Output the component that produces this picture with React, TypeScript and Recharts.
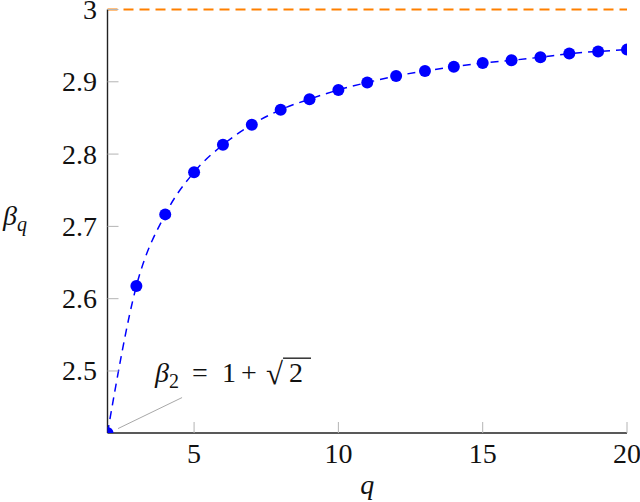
import React from "react";
import { LineChart, Line, XAxis, YAxis, ReferenceLine, ReferenceDot } from "recharts";

const qValues = [2, 3, 4, 5, 6, 7, 8, 9, 10, 11, 12, 13, 14, 15, 16, 17, 18, 19, 20];
const betaValues = [
  2.4142, 2.6174, 2.7166, 2.775, 2.8129, 2.8406, 2.8614, 2.876, 2.8887, 2.899,
  2.908, 2.915, 2.9207, 2.926, 2.9297, 2.934, 2.939, 2.942, 2.9445,
];
const xTicks = [5, 10, 15, 20];
const yTicks = [2.5, 2.6, 2.7, 2.8, 2.9, 3];
const limitValue = 3;
const annotationParts = ["β", "2", "=", "1", "+", "√", "2"];
const annotationAnchor = { x: 3.647, y: 2.4845 };
const leaderLine = [
  { x: 2.364, y: 2.4203 },
  { x: 4.583, y: 2.4632 },
];

const data = qValues.map((q, i) => ({ q, beta: betaValues[i] }));

const FONT = "Liberation Serif";
const TICK_COLOR = "#b4b4b4";

const YTick = (props: any) => {
  const { x, y, payload } = props;
  return (
    <g>
      <line x1={x} y1={y} x2={x + 11} y2={y} stroke={TICK_COLOR} strokeWidth={1} />
      <text x={x - 10.5} y={y + 9.5} textAnchor="end" fontFamily={FONT} fontSize={28} fill="#111">
        {String(payload.value)}
      </text>
    </g>
  );
};

const XTick = (props: any) => {
  const { x, y, payload } = props;
  return (
    <g>
      <line x1={x} y1={y} x2={x} y2={y - 11} stroke={TICK_COLOR} strokeWidth={1} />
      <text x={x} y={y + 30} textAnchor="middle" fontFamily={FONT} fontSize={28} fill="#111">
        {String(payload.value)}
      </text>
    </g>
  );
};

const Annotation = (p: any) => {
  const vb = p.viewBox;
  const x0 = vb.x + 1;
  const y0 = vb.y + 1;
  const [b, s, eq, one, plus, rad, two] = annotationParts;
  return (
    <g fill="#111">
      <text x={x0} y={y0} fontFamily={FONT} fontSize={28} fontStyle="italic">{b}</text>
      <text x={x0 + 14} y={y0 + 6} fontFamily={FONT} fontSize={20}>{s}</text>
      <text x={x0 + 37} y={y0} fontFamily={FONT} fontSize={28}>{eq}</text>
      <text x={x0 + 67} y={y0} fontFamily={FONT} fontSize={28}>{one}</text>
      <text x={x0 + 86} y={y0} fontFamily={FONT} fontSize={28}>{plus}</text>
      <text x={x0 + 111} y={y0 + 2} fontFamily={FONT} fontSize={31}>{rad}</text>
      <line x1={x0 + 128} y1={y0 - 24} x2={x0 + 156} y2={y0 - 24} stroke="#111" strokeWidth={1.3} />
      <text x={x0 + 134} y={y0} fontFamily={FONT} fontSize={28}>{two}</text>
    </g>
  );
};

const XLabel = (p: any) => {
  const vb = p.viewBox;
  return (
    <text
      x={vb.x + vb.width / 2}
      y={vb.y + 61}
      textAnchor="middle"
      fontFamily={FONT}
      fontStyle="italic"
      fontSize={28}
      fill="#111"
    >
      q
    </text>
  );
};

const YLabel = (p: any) => {
  const vb = p.viewBox;
  const yb = vb.y + vb.height / 2 + 4;
  return (
    <g fill="#111">
      <text x={3} y={yb} fontFamily={FONT} fontStyle="italic" fontSize={28}>β</text>
      <text x={17} y={yb + 6} fontFamily={FONT} fontStyle="italic" fontSize={20}>q</text>
    </g>
  );
};

export default function App() {
  return (
    <div style={{ position: "absolute", left: 0, top: 0, background: "#fff" }}>
      <LineChart
        width={640}
        height={502}
        data={data}
        margin={{ top: 9.5, right: 13, left: 0, bottom: 0 }}
      >
        <XAxis
          dataKey="q"
          type="number"
          domain={[2, 20]}
          ticks={xTicks}
          height={69}
          tickSize={0}
          tickMargin={0}
          tickLine={false}
          axisLine={{ stroke: "#222", strokeWidth: 1.4 }}
          tick={<XTick />}
          interval={0}
          allowDataOverflow
          label={{ content: XLabel }}
        />
        <YAxis
          type="number"
          domain={[2.4142, 3]}
          ticks={yTicks}
          width={107.5}
          tickSize={0}
          tickMargin={0}
          tickLine={false}
          axisLine={{ stroke: "#222", strokeWidth: 1.4 }}
          tick={<YTick />}
          interval={0}
          allowDataOverflow
          label={{ content: YLabel }}
        />
        <ReferenceLine y={limitValue} stroke="#ff8000" strokeWidth={2.2} strokeDasharray="10 6" />
        <ReferenceLine segment={leaderLine} stroke="#a8a8a8" strokeWidth={1} />
        <ReferenceDot
          x={annotationAnchor.x}
          y={annotationAnchor.y}
          r={1}
          fill="none"
          stroke="none"
          label={{ content: Annotation }}
        />
        <Line
          type="monotone"
          dataKey="beta"
          stroke="#0000ff"
          strokeWidth={1.5}
          strokeDasharray="8 6"
          dot={{ r: 6, fill: "#0000ff", stroke: "none" }}
          activeDot={false}
          isAnimationActive={false}
        />
      </LineChart>
    </div>
  );
}
